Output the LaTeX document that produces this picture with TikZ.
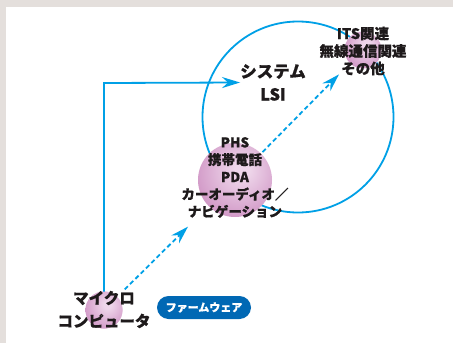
\documentclass[tikz,border=0pt]{standalone}
\usepackage{fontspec}
\setmainfont{Noto Sans CJK JP}[BoldFeatures={FakeBold=0.8}]
\usetikzlibrary{arrows.meta}
\definecolor{bggray}{HTML}{E4DFDC}
\definecolor{cyanline}{HTML}{00A0E6}
\definecolor{badgeblue}{HTML}{0068B4}
\definecolor{txt}{HTML}{1E1A1B}
\definecolor{sphhi}{HTML}{EED6EA}
\definecolor{sphmid}{HTML}{D49ECA}
\definecolor{sphedge}{HTML}{A65E94}
\pgfdeclareradialshading{sphereshade}{\pgfpoint{5bp}{8bp}}{%
  color(0bp)=(sphhi); color(5bp)=(sphhi); color(28bp)=(sphmid); color(52bp)=(sphedge); color(70bp)=(sphedge)}
\tikzset{
  sphere/.style={circle, inner sep=0pt, minimum size=#1, shading=sphereshade},
  lbl/.style={text=txt, align=center, inner sep=0pt},
  conn/.style={draw=cyanline, line width=1.8pt},
  tip/.style={-{Stealth[length=18pt, width=11pt, inset=6pt]}},
  dashconn/.style={conn, dash pattern=on 4.5pt off 3pt},
}
\begin{document}
\begin{tikzpicture}[x=1pt, y=-1pt]
\useasboundingbox (0,0) rectangle (453,343);
\fill[bggray] (0,0) rectangle (453,343);
\fill[white] (6,7) rectangle (453,343);
% big circle
\draw[cyanline, line width=1.8pt] (298,117) circle[radius=95.5];
% named nodes
\node[sphere=37pt] (micro) at (104,310) {};
\node[lbl, font=\bfseries\fontsize{16.5}{23}\selectfont] (lsi) at (273,82.5) {システム\\LSI};
\coordinate (corner) at (104,83);
% solid connector (drawn before sphere covers its end)
\draw[conn, tip] (micro.center) -- (corner) -- (lsi.west);
% spheres
\node[sphere=37pt] (micro2) at (104,310) {};
\node[sphere=74pt] (phs) at (235,180) {};
\node[sphere=37pt] (its) at (363,50) {};
% dashed connectors
\draw[dashconn, tip, shorten <=10.5pt, shorten >=29pt] (micro2) -- (phs);
\draw[dashconn, tip, shorten <=2pt, shorten >=15.5pt] (phs) -- (its);
% texts
\node[lbl, font=\bfseries\fontsize{14.5}{17.5}\selectfont] (itstext) at (363,51) {ITS関連\\無線通信関連\\その他};
\node[lbl, font=\bfseries\fontsize{13.5}{17.3}\selectfont] (phstext) at (235,177.5) {PHS\\携帯電話\\PDA\\カーオーディオ／\\ナビゲーション};
\node[lbl, font=\bfseries\fontsize{15.5}{23}\selectfont] (microtext) at (104,309.5) {マイクロ\\コンピュータ};
\node[fill=badgeblue, rounded corners=11.5pt, minimum width=94pt, minimum height=23pt, inner sep=0pt,
      text=white, font=\bfseries\fontsize{11}{13}\selectfont] (fw) at (204,307.5) {ファームウェア};
\end{tikzpicture}
\end{document}
